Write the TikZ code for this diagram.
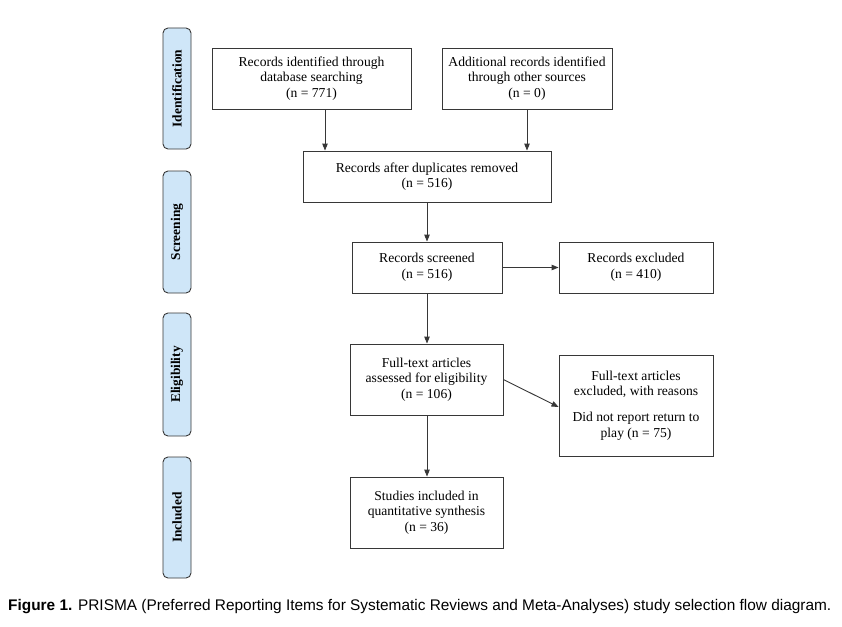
\documentclass[tikz,border=0pt]{standalone}
\usepackage{fontspec}
\setmainfont{Liberation Serif}
\setsansfont{Liberation Sans}
\usepackage{tikz}
\usetikzlibrary{calc}
\usetikzlibrary{arrows.meta,shapes}

\definecolor{phaseblue}{RGB}{207,230,248}
\definecolor{linegray}{RGB}{55,55,55}

\tikzset{
  box/.style={draw=linegray, line width=0.9pt, align=center, inner sep=2pt,
    font=\fontsize{13.6}{15.6}\selectfont},
  phase/.style={draw=linegray, line width=0.9pt, fill=phaseblue, rounded corners=5pt,
    minimum width=28pt, inner sep=0pt,
    font=\fontsize{13.4}{15}\selectfont\bfseries},
}

\begin{document}
\begin{tikzpicture}[>={Triangle[length=7pt,width=5.5pt]}]

\begin{scope}[x=1pt,y=-1pt]
  \useasboundingbox (0,0) rectangle (842,626);

  % phases on the left
  \node[phase,minimum height=121pt] (pid) at (177,88.5) {};
  \node[rotate=90,font=\fontsize{13.4}{15}\selectfont\bfseries] at (pid) {Identification};
  \node[phase,minimum height=122pt] (psc) at (177,232) {};
  \node[rotate=90,font=\fontsize{13.4}{15}\selectfont\bfseries] at (psc) {Screening};
  \node[phase,minimum height=123pt] (pel) at (177,374.5) {};
  \node[rotate=90,font=\fontsize{13.4}{15}\selectfont\bfseries] at (pel) {Eligibility};
  \node[phase,minimum height=121pt] (pin) at (177,517.5) {};
  \node[rotate=90,font=\fontsize{13.4}{15}\selectfont\bfseries] at (pin) {Included};

  % boxes
  \node[box,minimum width=199pt,minimum height=61pt] (db) at (311.5,78.5)
    {Records identified through\\database searching\\(n = 771)};
  \node[box,minimum width=170pt,minimum height=61pt] (other) at (527,78.5)
    {Additional records identified\\through other sources\\(n = 0)};
  \node[box,minimum width=248pt,minimum height=51pt] (dup) at (427,176.5)
    {Records after duplicates removed\\(n = 516)};
  \node[box,minimum width=150pt,minimum height=51pt] (scr) at (427,267.5)
    {Records screened\\(n = 516)};
  \node[box,minimum width=154pt,minimum height=51pt] (exc) at (636,267.5)
    {Records excluded\\(n = 410)};
  \node[box,minimum width=153pt,minimum height=71pt] (full) at (426.5,379.5)
    {Full-text articles\\assessed for eligibility\\(n = 106)};
  \node[box,minimum width=154pt,minimum height=101pt] (fexc) at (636,405.5)
    {Full-text articles\\excluded, with reasons\\[10pt]Did not report return to\\play (n = 75)};
  \node[box,minimum width=153pt,minimum height=71pt] (incl) at (426.5,512.5)
    {Studies included in\\quantitative synthesis\\(n = 36)};

  % connectors
  \draw[->,linegray,line width=0.9pt] ([xshift=13.5pt]db.south) -- ([xshift=13.5pt]db.south |- dup.north);
  \draw[->,linegray,line width=0.9pt] (other.south) -- (other.south |- dup.north);
  \draw[->,linegray,line width=0.9pt] (dup) -- (scr);
  \draw[->,linegray,line width=0.9pt] (scr) -- (exc);
  \draw[->,linegray,line width=0.9pt] (scr.south) -- (scr.south |- full.north);
  \draw[->,linegray,line width=0.9pt] (full.east) -- ([yshift=-1.5pt]fexc.west);
  \draw[->,linegray,line width=0.9pt] (full.south -| scr.south) -- (scr.south |- incl.north);

  % caption
  \node[anchor=west,inner sep=0pt,font=\sffamily\fontsize{15.4}{17}\selectfont] (cap) at (8,607)
    {\textbf{Figure 1.} PRISMA (Preferred Reporting Items for Systematic Reviews and Meta-Analyses) study selection flow diagram.};
\end{scope}

\end{tikzpicture}
\end{document}
